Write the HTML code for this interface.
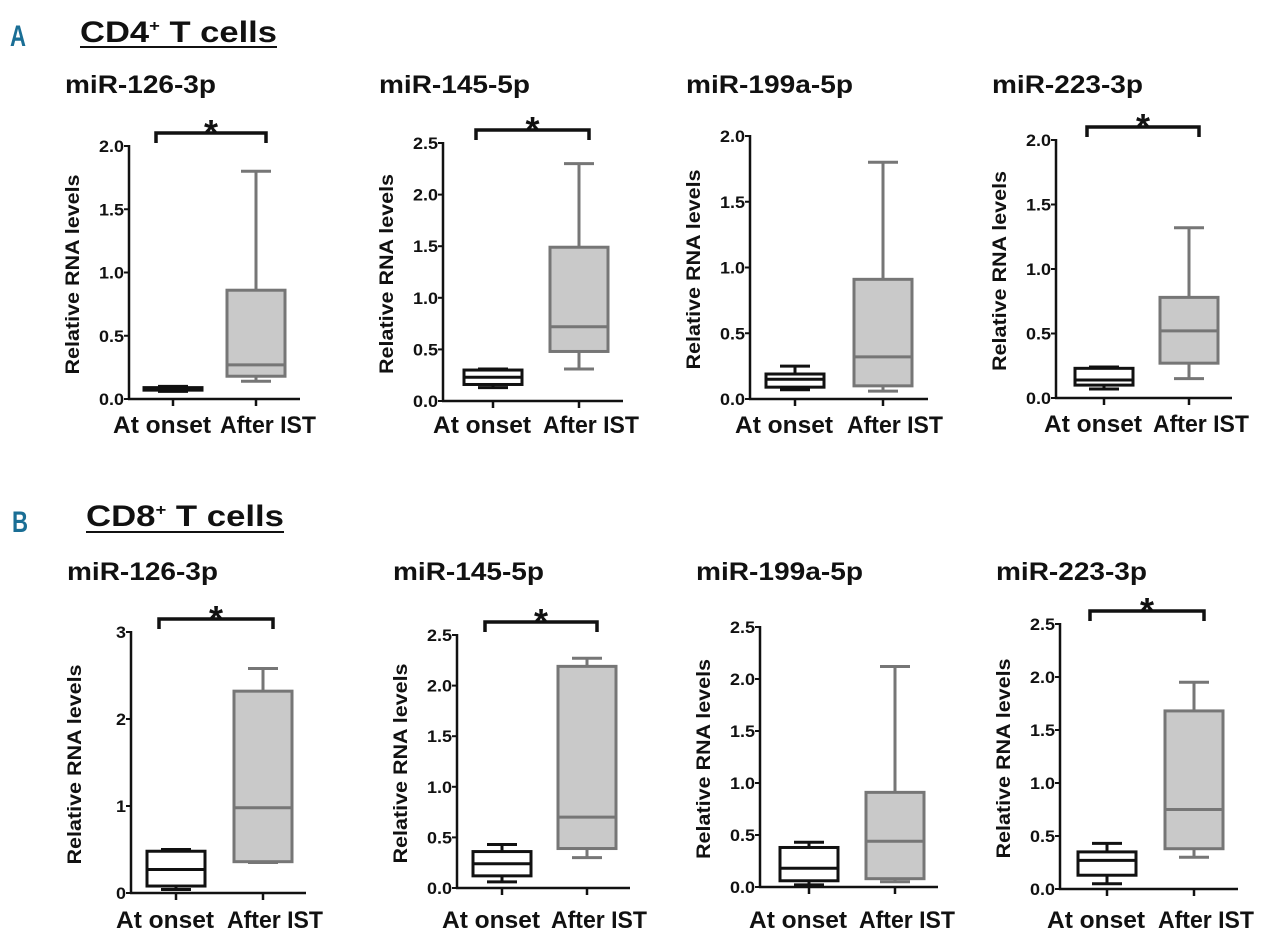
<!DOCTYPE html>
<html><head><meta charset="utf-8"><style>
html,body{margin:0;padding:0;background:#fff;}
svg{display:block;font-family:"Liberation Sans",Arial,sans-serif;font-weight:bold;}
</style></head><body>
<svg id="fig" width="1280" height="941" viewBox="0 0 1280 941" xmlns="http://www.w3.org/2000/svg">
  <text x="10" y="46" font-size="30" fill="#1a6e95" textLength="16" lengthAdjust="spacingAndGlyphs">A</text>
  <text x="80" y="42" font-size="30" fill="#111" textLength="197" lengthAdjust="spacingAndGlyphs">CD4<tspan dy="-11" font-size="16">+</tspan><tspan dy="11"> T cells</tspan></text>
  <line x1="80" y1="47" x2="277" y2="47" stroke="#111" stroke-width="2"/>
  <text x="12" y="532" font-size="30" fill="#1a6e95" textLength="16" lengthAdjust="spacingAndGlyphs">B</text>
  <text x="86" y="526" font-size="30" fill="#111" textLength="198" lengthAdjust="spacingAndGlyphs">CD8<tspan dy="-11" font-size="16">+</tspan><tspan dy="11"> T cells</tspan></text>
  <line x1="86" y1="532" x2="284" y2="532" stroke="#111" stroke-width="2"/>
</svg>
<script>
// ---- data ----
const panelTitles = ["miR-126-3p","miR-145-5p","miR-199a-5p","miR-223-3p","miR-126-3p","miR-145-5p","miR-199a-5p","miR-223-3p"];
const categories = ["At onset","After IST"];
const yMaxVals = [2.0,2.5,2.0,2.0,3,2.5,2.5,2.5];
const yStepVals = [0.5,0.5,0.5,0.5,1,0.5,0.5,0.5];
const significant = [true,true,false,true,true,true,false,true];
const onsetMin = [0.06,0.13,0.07,0.07,0.04,0.06,0.02,0.05];
const onsetQ1  = [0.07,0.16,0.09,0.10,0.08,0.12,0.06,0.13];
const onsetMed = [0.08,0.23,0.15,0.14,0.27,0.24,0.18,0.27];
const onsetQ3  = [0.09,0.30,0.19,0.23,0.48,0.36,0.38,0.35];
const onsetMax = [0.10,0.31,0.25,0.24,0.50,0.43,0.43,0.43];
const afterMin = [0.14,0.31,0.06,0.15,0.35,0.30,0.05,0.30];
const afterQ1  = [0.18,0.48,0.10,0.27,0.36,0.39,0.08,0.38];
const afterMed = [0.27,0.72,0.32,0.52,0.98,0.70,0.44,0.75];
const afterQ3  = [0.86,1.49,0.91,0.78,2.32,2.19,0.91,1.68];
const afterMax = [1.80,2.30,1.80,1.32,2.58,2.27,2.12,1.95];
const onsetFilled = [true,false,false,false,false,false,false,false];

// ---- layout (pixels) ----
const L = [
 {ax:129,y0:399,yt:146,t1:173,t2:256,xe:300,ty:93,ly:433},
 {ax:443,y0:401,yt:143,t1:493,t2:579,xe:623,ty:93,ly:433},
 {ax:750,y0:399,yt:136,t1:795,t2:883,xe:928,ty:93,ly:433},
 {ax:1056,y0:398,yt:140,t1:1104,t2:1189,xe:1232,ty:93,ly:432},
 {ax:131,y0:893,yt:632,t1:176,t2:263,xe:306,ty:580,ly:928},
 {ax:457,y0:888,yt:635,t1:502,t2:587,xe:630,ty:580,ly:928},
 {ax:760,y0:887,yt:627,t1:809,t2:895,xe:938,ty:580,ly:928},
 {ax:1060,y0:889,yt:624,t1:1107,t2:1194,xe:1238,ty:580,ly:928}
];
const NS="http://www.w3.org/2000/svg";
const svg=document.getElementById('fig');
function mk(tag,attrs,parent){const e=document.createElementNS(NS,tag);for(const k in attrs)e.setAttribute(k,attrs[k]);(parent||svg).appendChild(e);return e;}

panelTitles.forEach((title,i)=>{
  const p=L[i];
  const g=mk('g',{});
  
  
  const yScale=v=>p.y0-(v/yMaxVals[i])*(p.y0-p.yt);
  const hw=29;
  const t=mk('text',{x:p.ax-64,y:p.ty,'font-size':25,fill:'#111',textLength:title.length>10?167:151,lengthAdjust:'spacingAndGlyphs'},g);
  t.textContent=title;
  
  
  const yl=mk('text',{x:0,y:0,'font-size':19,fill:'#111','text-anchor':'middle',textLength:200,lengthAdjust:'spacingAndGlyphs',transform:`translate(${p.ax-50},${(p.y0+p.yt)/2+2}) rotate(-90)`},g);
  yl.textContent='Relative  RNA levels';
  
  
  const ya=mk('line',{x1:p.ax,y1:p.yt-1,x2:p.ax,y2:p.y0+1,stroke:'#111','stroke-width':2.5},g);
  
  
  const xa=mk('line',{x1:p.ax-1,y1:p.y0,x2:p.xe,y2:p.y0,stroke:'#111','stroke-width':2.5},g);
  
  
  const n=Math.round(yMaxVals[i]/yStepVals[i]);
  for(let k=0;k<=n;k++){
    const v=k*yStepVals[i], y=yScale(v);
    const tk=mk('line',{x1:p.ax-5,y1:y,x2:p.ax,y2:y,stroke:'#111','stroke-width':2},g);
    
    
    const lbl=yStepVals[i]>=1?String(v):v.toFixed(1);
    const tl=mk('text',{x:p.ax-5,y:y+6,'font-size':17,fill:'#111','text-anchor':'end',textLength:lbl.length>1?25:10,lengthAdjust:'spacingAndGlyphs'},g);
    tl.textContent=lbl;
    
    
  }
  [p.t1,p.t2].forEach((cx,j)=>{
    const tk=mk('line',{x1:cx,y1:p.y0,x2:cx,y2:p.y0+7,stroke:'#111','stroke-width':2.5},g);
    
    
    const tl=mk('text',{x:cx+(j===0?-11:12),y:p.ly,'font-size':24,fill:'#111','text-anchor':'middle',textLength:j===0?98:96,lengthAdjust:'spacingAndGlyphs'},g);
    tl.textContent=categories[j];
    
    
  });
  const groups=[
    {cx:p.t1,mn:onsetMin[i],q1:onsetQ1[i],md:onsetMed[i],q3:onsetQ3[i],mx:onsetMax[i],stroke:'#111',fill:onsetFilled[i]?'#111':'#fff',name:'box-at-onset'},
    {cx:p.t2,mn:afterMin[i],q1:afterQ1[i],md:afterMed[i],q3:afterQ3[i],mx:afterMax[i],stroke:'#767676',fill:'#c9c9c9',name:'box-after-ist'}
  ];
  groups.forEach(b=>{
    const bg=mk('g',{},g);
    
    
    const sw=3;
    mk('line',{x1:b.cx,y1:yScale(b.mx),x2:b.cx,y2:yScale(b.q3),stroke:b.stroke,'stroke-width':sw},bg);
    mk('line',{x1:b.cx,y1:yScale(b.mn),x2:b.cx,y2:yScale(b.q1),stroke:b.stroke,'stroke-width':sw},bg);
    mk('line',{x1:b.cx-15,y1:yScale(b.mx),x2:b.cx+15,y2:yScale(b.mx),stroke:b.stroke,'stroke-width':sw},bg);
    mk('line',{x1:b.cx-15,y1:yScale(b.mn),x2:b.cx+15,y2:yScale(b.mn),stroke:b.stroke,'stroke-width':sw},bg);
    mk('rect',{x:b.cx-hw,y:yScale(b.q3),width:2*hw,height:Math.max(0.5,yScale(b.q1)-yScale(b.q3)),fill:b.fill,stroke:b.stroke,'stroke-width':sw},bg);
    mk('line',{x1:b.cx-hw,y1:yScale(b.md),x2:b.cx+hw,y2:yScale(b.md),stroke:b.fill==='#111'?'#111':b.stroke,'stroke-width':sw},bg);
  });
  if(significant[i]){
    const x1=p.t1-17,x2=p.t2+10,by=p.yt-13;
    const br=mk('path',{d:`M${x1},${by+10} V${by} H${x2} V${by+10}`,fill:'none',stroke:'#111','stroke-width':3.5},g);
    
    
    const st=mk('text',{x:(x1+x2)/2,y:by+12,'font-size':36,fill:'#111','text-anchor':'middle'},g);
    st.textContent='*';
    
    
  }
});
</script>
</body></html>
